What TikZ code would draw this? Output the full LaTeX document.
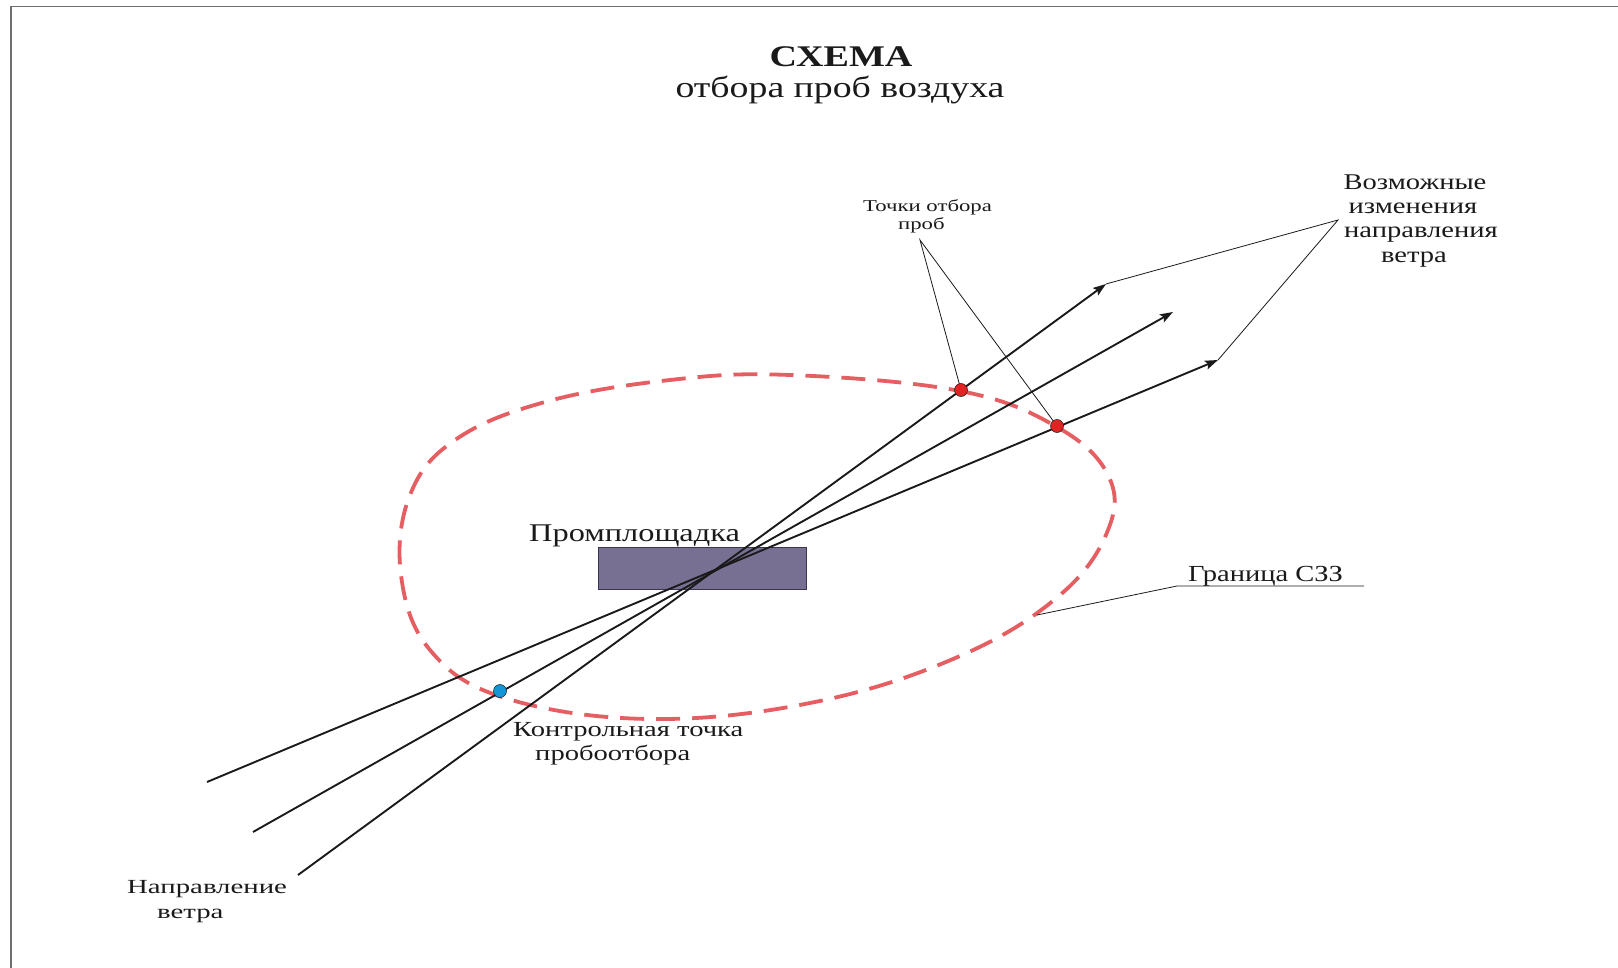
\documentclass[tikz,border=0pt]{standalone}
\usepackage{fontspec}
\setmainfont{Liberation Serif}
\usetikzlibrary{arrows.meta}
\definecolor{szz}{RGB}{228,94,98}
\definecolor{plant}{RGB}{120,112,147}
\definecolor{plantedge}{RGB}{58,52,78}
\definecolor{ptred}{RGB}{224,36,36}
\definecolor{ptblue}{RGB}{20,150,214}
\definecolor{ink}{RGB}{26,26,26}
\definecolor{framec}{RGB}{110,110,110}
\newcommand{\wtxt}[3]{\fontsize{#1}{#1}\selectfont\scalebox{#2}[1]{#3}}
\tikzset{
  lbl/.style={inner sep=0pt, anchor=base west, text=ink},
  lblc/.style={inner sep=0pt, anchor=base, text=ink},
  windarrow/.style={draw=ink, line width=1.9pt, -{Stealth[length=13pt,width=9pt,inset=2.5pt]}},
  leader/.style={draw=ink, line width=0.8pt},
  boundary/.style={draw=szz, line width=3.8pt, dash pattern=on 24pt off 12pt},
  ptdot/.style={circle, draw=ink, line width=0.5pt, minimum size=13pt, inner sep=0pt},
  framel/.style={draw=framec, line width=1.6pt}
}
\begin{document}
\begin{tikzpicture}[x=1pt,y=-1pt]
\useasboundingbox (0,0) rectangle (1618,968);
% frame
\draw[framel] (11,968) -- (11,6.5) -- (1618,6.5);

% title
\node[lblc] (title1) at (841,67) {\wtxt{30}{1.27}{\bfseries СХЕМА}};
\node[lblc] (title2) at (840,98) {\wtxt{30}{1.26}{отбора проб воздуха}};

% sanitary zone boundary
\draw[boundary] plot[smooth cycle, tension=0.65] coordinates {
  (790,375) (960,391) (1057,427) (1108,475) (1108,530) (1060,595)
  (960,656) (815,702) (650,719) (505,698) (430,650) (401,575)
  (410,495) (455,440) (545,402) (670,380)};

% industrial site
\node[draw=plantedge, fill=plant, line width=0.8pt, minimum width=208pt, minimum height=42pt, inner sep=0pt] (site) at (702,568) {};
\node[lbl] (sitelbl) at (529,541) {\wtxt{25.5}{1.27}{Промплощадка}};

% wind lines
\coordinate (tailA) at (298,875);
\coordinate (tipA) at (1106,284);
\coordinate (tailB) at (253,832);
\coordinate (tipB) at (1173,312);
\coordinate (tailC) at (207,782);
\coordinate (tipC) at (1218,360);
\draw[windarrow] (tailA) -- (tipA);
\draw[windarrow] (tailB) -- (tipB);
\draw[windarrow] (tailC) -- (tipC);

% leaders
\coordinate (apexV) at (1338,220);
\draw[leader] (tipA) -- (apexV) -- (tipC);
\coordinate (apexT) at (920,240);
\coordinate (P1) at (961,390);
\coordinate (P2) at (1057,426);
\coordinate (P0) at (500,691);
\draw[leader] (P1) -- (apexT) -- (P2);
\coordinate (bz) at (1037,615);
\coordinate (bzk) at (1177,586);
\coordinate (bze) at (1364,586);
\draw[leader] (bz) -- (bzk) -- (bze);

% sampling points
\node[ptdot, fill=ptred] (pt1) at (P1) {};
\node[ptdot, fill=ptred] (pt2) at (P2) {};
\node[ptdot, fill=ptblue] (pt0) at (P0) {};

% labels
\node[lbl] (tp1) at (863,211.5) {\wtxt{16.6}{1.37}{Точки отбора}};
\node[lbl] (tp2) at (898,230) {\wtxt{16.6}{1.37}{проб}};

\node[lblc] (v1) at (1415,190) {\wtxt{22.5}{1.27}{Возможные}};
\node[lblc] (v2) at (1413,214) {\wtxt{22.5}{1.27}{изменения}};
\node[lblc] (v3) at (1421,238) {\wtxt{22.5}{1.27}{направления}};
\node[lblc] (v4) at (1414,263) {\wtxt{22.5}{1.27}{ветра}};

\node[lbl] (gr) at (1188,581) {\wtxt{23}{1.24}{Граница СЗЗ}};

\node[lbl] (k1) at (513,736) {\wtxt{21.5}{1.33}{Контрольная точка}};
\node[lbl] (k2) at (535,760) {\wtxt{21.5}{1.33}{пробоотбора}};

\node[lbl] (n1) at (127,893) {\wtxt{20}{1.44}{Направление}};
\node[lbl] (n2) at (157,918) {\wtxt{20}{1.44}{ветра}};
\end{tikzpicture}
\end{document}
